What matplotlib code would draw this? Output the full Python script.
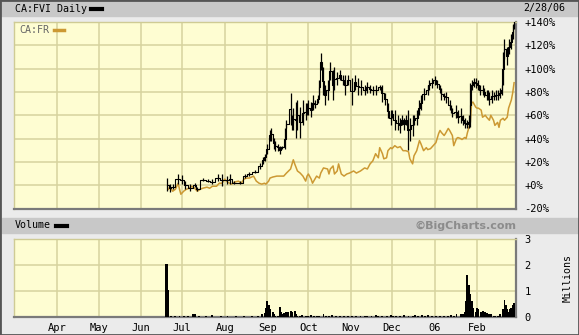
import matplotlib
matplotlib.use("Agg")
import matplotlib.pyplot as plt
import matplotlib.dates as mdates
from matplotlib.patches import Rectangle
from matplotlib.lines import Line2D
from datetime import datetime
import numpy as np

# Tage seit 2005-03-01
fvi_day = [111, 113, 115, 119, 122, 124, 128, 131, 133, 137, 141, 144, 148, 151, 155, 157, 160, 164,
           168, 171, 175, 179, 181, 182, 184, 186, 187, 189, 190, 192, 193, 195, 197, 198, 201, 202,
           203, 205, 206, 208, 210, 212, 213, 214, 216, 217, 219, 221, 222, 223, 225, 226, 228, 230,
           232, 233, 235, 237, 239, 241, 243, 246, 248, 250, 252, 255, 257, 259, 261, 263, 266, 268,
           270, 272, 274, 275, 277, 279, 281, 282, 284, 285, 287, 288, 290, 291, 293, 295, 296, 298,
           301, 302, 304, 306, 308, 310, 311, 313, 314, 317, 318, 319, 322, 323, 325, 327, 328, 330,
           331, 332, 333, 335, 336, 338, 339, 341, 342, 344, 345, 346, 348, 349, 351, 352, 354, 355,
           356, 357, 359, 360, 362, 363, 364]
fvi_hi = [6.1, 0.9, 0.9, 9.6, 8.7, 3.5, 0.9, 1.7, -1.7, 6.1, 5.2, 5.2, 9.6, 9.6, 7.8, 9.6, 3.5, 3.5,
          9.6, 11.3, 13.0, 19.1, 24.4, 27.0, 35.7, 47.0, 48.7, 40.9, 38.3, 35.7, 33.9, 33.9, 48.7, 55.7, 79.2, 60.0,
          66.1, 71.3, 73.1, 67.0, 73.1, 70.5, 70.5, 73.1, 71.3, 77.4, 73.1, 77.4, 90.5, 113.0, 101.0, 86.1, 90.5, 105.3,
          99.2, 101.0, 97.4, 99.2, 94.8, 94.8, 94.8, 92.2, 94.8, 92.2, 90.5, 86.1, 88.7, 86.1, 85.3, 86.1, 86.1, 86.1,
          79.2, 70.5, 64.4, 64.4, 64.4, 60.0, 57.4, 60.0, 57.4, 60.0, 64.4, 57.4, 60.0, 60.0, 64.4, 73.1, 77.4, 83.5,
          86.1, 90.5, 92.2, 94.0, 90.5, 86.1, 83.5, 79.2, 80.0, 73.1, 68.7, 66.1, 68.7, 64.4, 66.1, 60.0, 57.4, 55.7,
          60.0, 87.9, 90.5, 92.2, 92.2, 90.5, 86.1, 86.1, 83.5, 81.8, 81.8, 80.0, 81.8, 80.0, 81.8, 81.8, 83.5, 86.1,
          114.0, 125.3, 118.3, 125.3, 129.6, 138.3, 141.0]
fvi_lo = [-5.2, -6.1, -3.5, 0.9, 0.9, -3.5, -5.2, -1.7, -5.2, 3.5, 2.6, 0.9, 3.5, -0.9, 0.9, 0.9, 0.9, 0.9,
          6.1, 7.8, 10.4, 13.9, 18.3, 20.9, 27.0, 38.3, 38.3, 31.3, 29.6, 29.6, 27.0, 31.3, 31.3, 48.7, 51.3, 47.0,
          47.0, 40.9, 47.0, 40.9, 51.3, 55.7, 60.0, 60.0, 58.3, 64.4, 66.1, 70.5, 77.4, 99.2, 77.4, 68.7, 73.1, 90.5,
          73.1, 81.8, 86.1, 90.5, 86.1, 77.4, 86.1, 68.7, 81.8, 77.4, 77.4, 77.4, 79.2, 79.2, 77.4, 77.4, 81.8, 71.3,
          68.7, 57.4, 51.3, 57.4, 47.0, 47.0, 45.2, 51.3, 47.0, 51.3, 30.0, 38.3, 42.6, 51.3, 51.3, 60.0, 64.4, 73.1,
          77.4, 81.8, 83.5, 86.1, 83.5, 79.2, 73.1, 73.1, 70.5, 64.4, 61.8, 58.3, 57.4, 53.1, 53.1, 51.3, 48.7, 48.7,
          48.7, 49.6, 81.8, 84.4, 83.5, 81.8, 77.4, 77.4, 75.7, 73.1, 73.1, 68.7, 70.5, 73.1, 73.1, 73.1, 74.8, 77.4,
          86.1, 107.9, 103.5, 112.2, 116.6, 125.3, 134.0]

fr_day = [112, 113, 115, 117, 119, 120, 121, 123, 125, 127, 129, 131, 133, 135, 137, 140, 142, 144, 147,
          149, 151, 153, 155, 158, 160, 163, 165, 167, 169, 171, 174, 176, 178, 180, 182, 183, 185, 186,
          188, 191, 194, 196, 198, 201, 203, 204, 206, 208, 210, 212, 213, 214, 216, 217, 220, 222, 223,
          225, 228, 229, 230, 232, 233, 235, 236, 238, 240, 242, 244, 247, 249, 252, 255, 257, 259, 261,
          263, 265, 266, 268, 269, 271, 272, 274, 275, 277, 279, 281, 283, 285, 287, 288, 290, 291, 293,
          295, 296, 298, 300, 301, 303, 305, 307, 309, 310, 311, 313, 314, 316, 317, 319, 320, 322, 323,
          325, 326, 328, 329, 330, 332, 333, 334, 336, 337, 338, 340, 341, 343, 344, 346, 347, 349, 350,
          352, 353, 354, 356, 357, 359, 360, 362, 363, 364]
fr_val = [-3.5, -0.9, -5.2, -3.5, 1.7, -3.5, -7.8, -5.2, -3.5, -2.6, -0.9, -2.6, -5.2, -3.5, -2.6, -1.7, -2.6, -0.9, -0.9,
          1.7, 1.7, 5.2, 2.6, 0.9, 2.6, 3.5, 1.7, 5.2, 6.1, 6.1, 7.8, 3.5, 1.7, 0.9, 1.7, 0.9, 3.5, 6.1,
          7.0, 7.8, 7.8, 7.8, 10.4, 13.9, 21.8, 18.3, 12.2, 10.4, 7.8, 3.5, 7.8, 9.6, 5.2, 1.7, 7.8, 6.1, 10.4,
          14.8, 13.9, 9.6, 13.9, 16.5, 9.6, 12.2, 18.3, 9.6, 7.8, 9.6, 10.4, 12.2, 10.4, 12.2, 14.8, 13.9, 18.3, 20.9,
          27.0, 23.5, 32.2, 27.0, 22.6, 23.5, 29.6, 32.2, 31.3, 33.9, 32.2, 33.1, 29.6, 29.6, 28.7, 22.6, 18.3, 25.2, 29.6,
          38.3, 35.7, 29.6, 32.2, 30.5, 31.3, 33.9, 36.5, 44.4, 47.0, 45.2, 42.6, 44.4, 48.7, 47.0, 42.6, 33.9, 40.0, 40.9,
          40.0, 39.2, 40.9, 40.0, 45.2, 53.1, 70.5, 71.3, 67.0, 66.1, 66.1, 64.4, 58.3, 60.0, 58.3, 55.7, 60.0, 55.7, 51.3,
          53.9, 49.6, 55.7, 57.4, 55.7, 58.3, 66.1, 73.1, 79.2, 87.9]

vol_day = [110, 111, 112, 114, 117, 120, 123, 126, 130, 131, 134, 139, 144, 150, 155, 161, 167, 173, 177,
           180, 182, 183, 184, 185, 186, 188, 189, 190, 192, 193, 194, 195, 196, 198, 199, 201, 202, 204,
           205, 206, 208, 209, 212, 214, 216, 218, 220, 222, 225, 227, 229, 231, 234, 237, 240, 243, 246,
           249, 252, 255, 257, 260, 263, 265, 268, 271, 274, 276, 278, 281, 284, 287, 290, 292, 294, 297,
           299, 301, 304, 307, 310, 313, 316, 318, 320, 322, 325, 327, 328, 329, 330, 331, 332, 333, 334,
           336, 337, 338, 340, 341, 343, 344, 346, 347, 349, 350, 352, 353, 354, 356, 357, 358, 359, 360,
           361, 362, 363, 364]
vol_m = [2.05, 2.05, 1.05, 0.05, 0.02, 0.03, 0.03, 0.03, 0.1, 0.12, 0.03, 0.03, 0.06, 0.03, 0.03, 0.03, 0.03, 0.03, 0.05,
         0.1, 0.15, 0.35, 0.6, 0.45, 0.3, 0.2, 0.1, 0.05, 0.05, 0.4, 0.2, 0.1, 0.15, 0.2, 0.18, 0.25, 0.2, 0.25,
         0.12, 0.05, 0.05, 0.08, 0.05, 0.05, 0.08, 0.05, 0.05, 0.05, 0.1, 0.05, 0.05, 0.08, 0.03, 0.03, 0.03, 0.03, 0.03,
         0.03, 0.03, 0.03, 0.03, 0.03, 0.07, 0.03, 0.03, 0.05, 0.07, 0.05, 0.03, 0.05, 0.08, 0.05, 0.05, 0.08, 0.05, 0.08,
         0.05, 0.06, 0.05, 0.05, 0.03, 0.05, 0.05, 0.08, 0.05, 0.1, 0.1, 0.12, 0.2, 0.6, 1.6, 1.25, 0.9, 0.6, 0.35,
         0.2, 0.35, 0.3, 0.2, 0.25, 0.2, 0.15, 0.1, 0.1, 0.05, 0.05, 0.05, 0.05, 0.1, 0.3, 0.65, 0.45, 0.3, 0.2,
         0.3, 0.35, 0.45, 0.55]

pct_ticks = [-20, 0, 20, 40, 60, 80, 100, 120, 140]
vol_ticks = [0, 1, 2, 3]
month_starts = [datetime(2005, m, 1) for m in range(4, 13)] + [datetime(2006, 1, 1), datetime(2006, 2, 1)]
month_labels = ['Apr', 'May', 'Jun', 'Jul', 'Aug', 'Sep', 'Oct', 'Nov', 'Dec', '06', 'Feb']

base = mdates.date2num(datetime(2005, 3, 1))
W, H = 579, 335
MONO = 'DejaVu Sans Mono'
bg = '#fefdd2'
gridc = '#d6d39e'
orange = '#cc9933'


def fx(px):
    return px / W


def fy(py):
    return 1 - py / H


fig = plt.figure(figsize=(W / 100, H / 100), dpi=100, facecolor='#ebebeb')

# Hintergrundbänder
fig.patches.append(Rectangle((0, fy(16)), 1, 16 / H, transform=fig.transFigure, color='#c8c8c8', zorder=0))
fig.patches.append(Rectangle((fx(2), fy(233)), 1, 15 / H, transform=fig.transFigure, color='#c8c8c8', zorder=0))
fig.patches.append(Rectangle((0, 0), 1, 1, transform=fig.transFigure, fill=False, ec='#555555', lw=2, zorder=5))

ax = fig.add_axes([fx(14), fy(208.5), fx(516) - fx(14), fy(22) - fy(208.5)])
axv = fig.add_axes([fx(14), fy(317), fx(516) - fx(14), fy(239) - fy(317)])

for a in (ax, axv):
    a.set_facecolor(bg)
    a.set_xlim(base - 0.7, base + 365.4)
    a.set_xticks(mdates.date2num(month_starts))
    a.grid(True, color=gridc, lw=1.1)
    a.set_axisbelow(True)
    a.yaxis.tick_right()
    a.tick_params(length=0, labelsize=7.5, pad=6, colors='#000000')
    for s in ('left', 'top'):
        a.spines[s].set_color('#cfcb94')
        a.spines[s].set_linewidth(1)
    for s in ('right', 'bottom'):
        a.spines[s].set_color('#7a7a7a')
        a.spines[s].set_linewidth(1.6)

# Hauptchart
ax.set_ylim(-20, 140)
ax.set_yticks(pct_ticks)
ax.set_yticklabels([f'{v:+d}%' if v != 0 else '+0%' for v in pct_ticks], family=MONO)
ax.set_xticklabels([])

x_fvi = base + np.array(fvi_day)
hi = np.array(fvi_hi)
lo = np.array(fvi_lo)
ax.vlines(x_fvi, lo, hi, color='black', lw=0.9, zorder=4)
ax.plot(x_fvi, (hi + lo) / 2, drawstyle='steps-mid', color='black', lw=0.8, zorder=4)
ax.plot(base + np.array(fr_day), fr_val, color=orange, lw=1.1, zorder=3)

# Volumen
axv.bar(base + np.array(vol_day), vol_m, width=1.4, color='black', zorder=3)
axv.set_ylim(0, 3)
axv.set_yticks(vol_ticks)
axv.set_yticklabels([str(v) for v in vol_ticks], family=MONO)
axv.set_xticklabels(month_labels, family=MONO)
axv.tick_params(axis='x', pad=4)

# Texte und Legenden
fig.text(fx(15), fy(8.5), 'CA:FVI Daily', family=MONO, fontsize=7.2, va='center')
fig.lines.append(Line2D([fx(91), fx(102)], [fy(8.5), fy(8.5)], transform=fig.transFigure, color='black', lw=3))
fig.text(fx(523), fy(8.5), '2/28/06', family=MONO, fontsize=7.2, va='center')
fig.text(fx(19), fy(30), 'CA:FR', family=MONO, fontsize=7.2, va='center', color='#666666')
fig.lines.append(Line2D([fx(54), fx(64)], [fy(30), fy(30)], transform=fig.transFigure, color=orange, lw=2.5))
fig.text(fx(15), fy(225.5), 'Volume', family=MONO, fontsize=7.2, va='center')
fig.lines.append(Line2D([fx(56), fx(67)], [fy(225.5), fy(225.5)], transform=fig.transFigure, color='black', lw=3))
fig.text(fx(516), fy(225.5), '\u00a9BigCharts.com', fontsize=8, fontweight='bold', color='#8c8c8c',
         ha='right', va='center')
fig.text(fx(568), fy(278), 'Millions', family=MONO, fontsize=7.2, rotation=90, ha='center', va='center')

fig.savefig('out.png', dpi=100, facecolor=fig.get_facecolor())
